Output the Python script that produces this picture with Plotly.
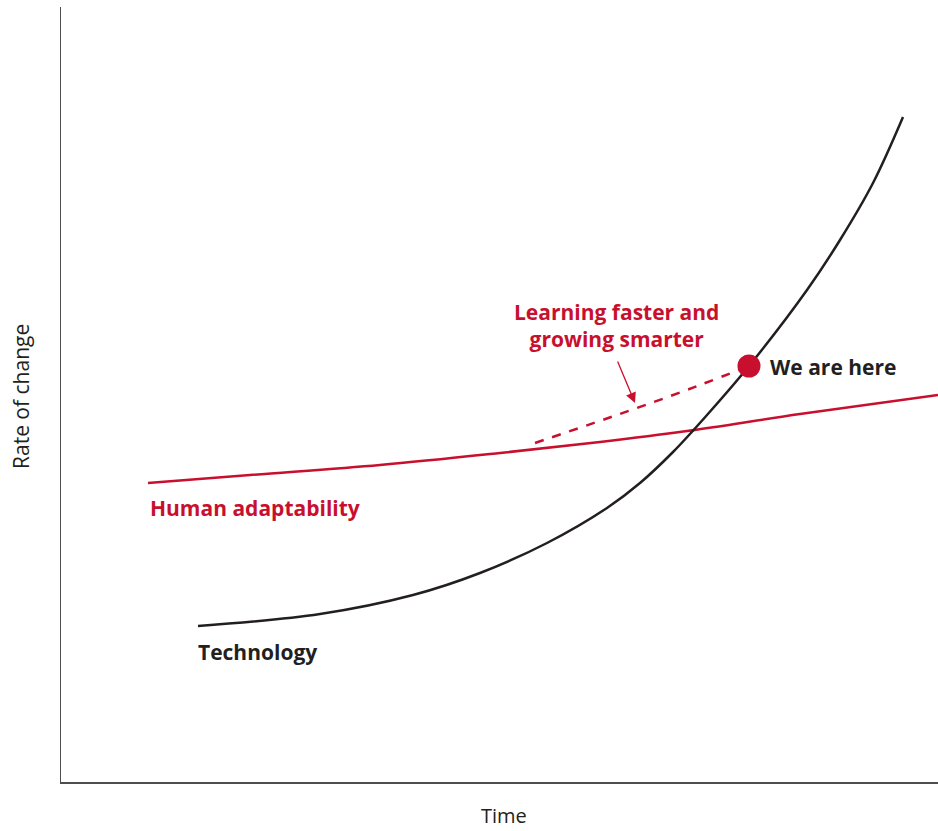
import plotly.graph_objects as go

RED = "#c8102e"
DARK = "#231f20"

# Coordinates in chart units (x: time, y: rate of change)
tech_x = [137, 259, 352, 419, 486, 546, 579, 612, 646, 688, 746, 779, 812, 842]
tech_y = [156, 168, 187, 209, 239, 274, 299, 330, 367, 416, 492, 542, 599, 665]

human_x = [87, 189, 319, 439, 539, 626, 739, 877]
human_y = [299, 307, 317, 329, 340, 351, 368, 387]

learn_x = [474, 576, 639, 688]
learn_y = [339, 374, 397, 416]

here_x = [688]
here_y = [416]

fig = go.Figure()
fig.add_trace(go.Scatter(x=human_x, y=human_y, mode="lines", line=dict(color=RED, width=2.5, shape="spline"), hoverinfo="skip"))
fig.add_trace(go.Scatter(x=learn_x, y=learn_y, mode="lines", line=dict(color=RED, width=2.5, dash="9px,9px", shape="spline"), hoverinfo="skip"))
fig.add_trace(go.Scatter(x=tech_x, y=tech_y, mode="lines", line=dict(color=DARK, width=2.5, shape="spline", smoothing=1.0), hoverinfo="skip"))
fig.add_trace(go.Scatter(x=here_x, y=here_y, mode="markers", marker=dict(color=RED, size=23), hoverinfo="skip"))

fb = "Open Sans"
anns = [
    dict(x=555, y=457, text="<b>Learning faster and<br>growing smarter</b>", font=dict(color=RED, size=21, family=fb), xanchor="center", yanchor="middle", showarrow=False),
    dict(x=707, y=415, text="<b>We are here</b>", font=dict(color=DARK, size=21, family=fb), xanchor="left", yanchor="middle", showarrow=False),
    dict(x=87, y=274, text="<b>Human adaptability</b>", font=dict(color=RED, size=21, family=fb), xanchor="left", yanchor="middle", showarrow=False),
    dict(x=135, y=130, text="<b>Technology</b>", font=dict(color=DARK, size=21, family=fb), xanchor="left", yanchor="middle", showarrow=False),
    dict(x=-0.0456, y=0.4968, xref="paper", yref="paper", text="Rate of change", textangle=-90, font=dict(color=DARK, size=21, family=fb), xanchor="center", yanchor="middle", showarrow=False),
    dict(x=0.505, y=-0.0435, xref="paper", yref="paper", text="Time", font=dict(color=DARK, size=20, family=fb), xanchor="center", yanchor="middle", showarrow=False),
    dict(x=574, y=379, ax=556, ay=422, xref="x", yref="y", axref="x", ayref="y", text="", showarrow=True,
         arrowhead=2, arrowsize=1.6, arrowwidth=1.3, arrowcolor=RED),
]

fig.update_layout(
    width=938, height=831,
    margin=dict(l=61, r=0, t=7, b=49, pad=0),
    paper_bgcolor="white", plot_bgcolor="white",
    showlegend=False,
    annotations=anns,
    xaxis=dict(range=[0, 877], showgrid=False, zeroline=False, showticklabels=False, ticks="",
               showline=True, linecolor="#4d4d4d", linewidth=1.5, fixedrange=True),
    yaxis=dict(range=[0, 775], showgrid=False, zeroline=False, showticklabels=False, ticks="",
               showline=True, linecolor="#4d4d4d", linewidth=1.5, fixedrange=True),
)

fig.write_html("out.html", config={"displayModeBar": False, "staticPlot": True},
               post_script="document.body.style.margin='0px';document.body.style.overflow='hidden';")
